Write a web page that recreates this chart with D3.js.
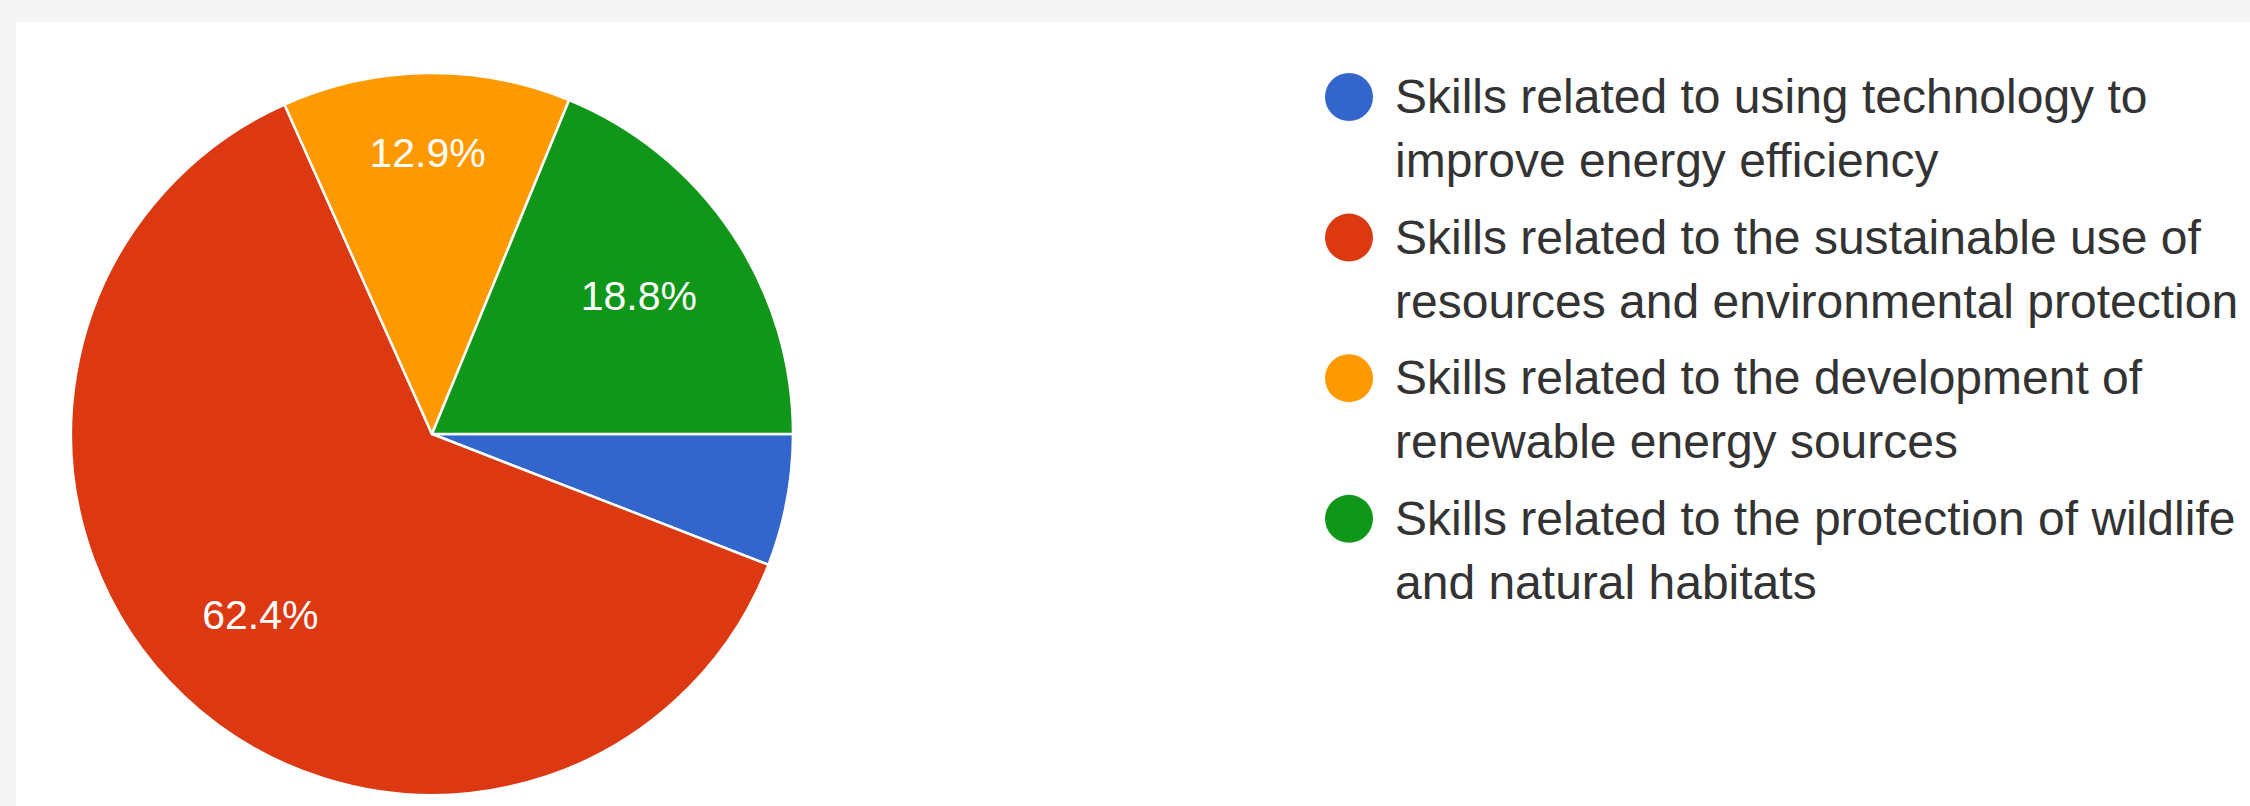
<!DOCTYPE html>
<html>
<head>
<meta charset="utf-8">
<script src="https://cdn.jsdelivr.net/npm/d3@7"></script>
<style>
  html, body { margin: 0; padding: 0; background: #f5f5f5; }
  svg { display: block; }
</style>
</head>
<body>
<div id="chart"></div>
<script>
const categories = [
  "Skills related to using technology to improve energy efficiency",
  "Skills related to the sustainable use of resources and environmental protection",
  "Skills related to the development of renewable energy sources",
  "Skills related to the protection of wildlife and natural habitats"
];
const legendLines = [
  ["Skills related to using technology to", "improve energy efficiency"],
  ["Skills related to the sustainable use of", "resources and environmental protection"],
  ["Skills related to the development of", "renewable energy sources"],
  ["Skills related to the protection of wildlife", "and natural habitats"]
];
const shares = [5.9, 62.4, 12.9, 18.8];
const colors = ["#3366cc", "#dc3912", "#ff9900", "#109618"];

const width = 2250, height = 806;
const cx = 432, cy = 434, radius = 361;

const svg = d3.select("#chart").append("svg")
  .attr("width", width)
  .attr("height", height);

// white card on the grey page
svg.append("rect")
  .attr("x", 16).attr("y", 22)
  .attr("width", width - 16).attr("height", height - 22)
  .attr("fill", "#ffffff");

const data = categories.map((c, i) => ({ name: c, value: shares[i], color: colors[i] }));

const pie = d3.pie()
  .value(d => d.value)
  .sort(null)
  .startAngle(Math.PI / 2)
  .endAngle(Math.PI / 2 + 2 * Math.PI);

const arcs = pie(data);
const arc = d3.arc().innerRadius(0).outerRadius(radius);

const g = svg.append("g").attr("transform", `translate(${cx},${cy})`);

g.selectAll("path.slice")
  .data(arcs)
  .enter()
  .append("path")
  .attr("class", "slice")
  .attr("d", arc)
  .attr("fill", d => d.data.color)
  .attr("stroke", "#ffffff")
  .attr("stroke-width", 2.5)
  .attr("stroke-linejoin", "round");

// narrow slices get their label pushed a bit outward, like google charts does
const labelArc = d => {
  const span = d.endAngle - d.startAngle;
  const r = span < 1 ? radius * 0.78 : radius * 0.69;
  return d3.arc().innerRadius(r).outerRadius(r).centroid(d);
};

g.selectAll("text.pct")
  .data(arcs.filter(d => d.data.value >= 10))
  .enter()
  .append("text")
  .attr("class", "pct")
  .attr("x", d => labelArc(d)[0])
  .attr("y", d => labelArc(d)[1])
  .attr("dy", "0.36em")
  .attr("text-anchor", "middle")
  .attr("font-family", "Arial, 'Liberation Sans', sans-serif")
  .attr("font-size", 41)
  .attr("fill", "#ffffff")
  .text(d => d.data.value.toFixed(1) + "%");

// legend
const legend = svg.append("g").attr("transform", "translate(1349, 97)");
const item = legend.selectAll("g.item")
  .data(data)
  .enter()
  .append("g")
  .attr("class", "item")
  .attr("transform", (d, i) => `translate(0, ${i * 140.6})`);

item.append("circle")
  .attr("r", 24)
  .attr("fill", d => d.color);

item.each(function(d, i) {
  const t = d3.select(this).append("text")
    .attr("font-family", "Arial, 'Liberation Sans', sans-serif")
    .attr("font-size", 48)
    .attr("fill", "#333333");
  legendLines[i].forEach((line, j) => {
    t.append("tspan")
      .attr("x", 46)
      .attr("y", 16 + j * 64)
      .text(line);
  });
});
</script>
</body>
</html>
